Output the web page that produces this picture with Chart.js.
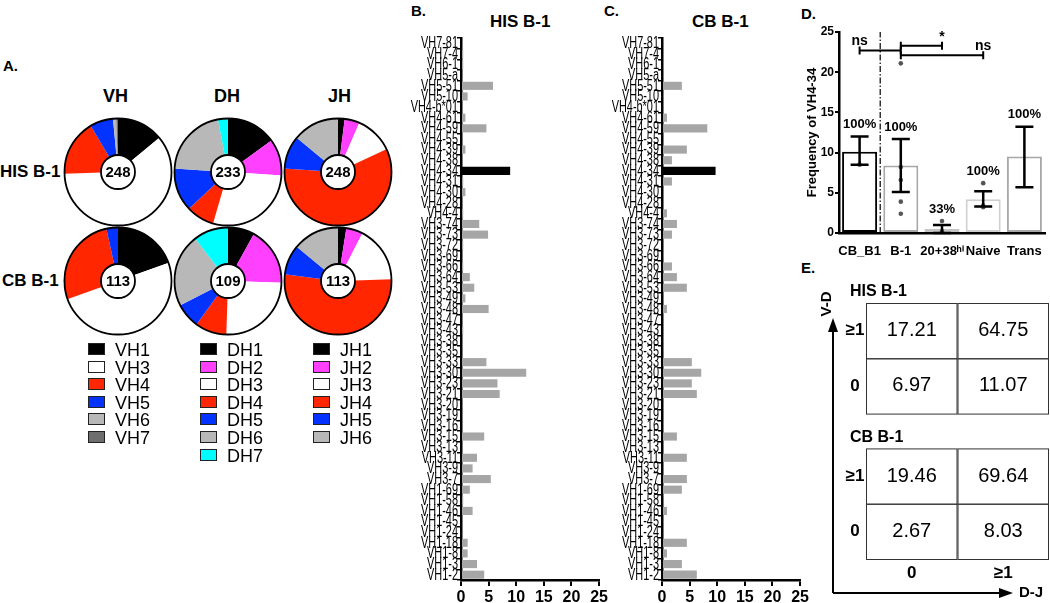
<!DOCTYPE html>
<html>
<head>
<meta charset="utf-8">
<title>VH usage in B-1 cells</title>
<script src="https://cdn.jsdelivr.net/npm/chart.js@4.4.0/dist/chart.umd.min.js"></script>
<style>
  body { margin: 0; background: #fff; }
  #fig { position: relative; width: 1050px; height: 603px; overflow: hidden;
         font-family: 'Liberation Sans', Arial, sans-serif; color: #000; }
  #fig canvas { position: absolute; }
  .txt { position: absolute; white-space: nowrap; }
  .b { font-weight: bold; }
  .lg { position: absolute; height: 16px; font-size: 18px; line-height: 16px; padding-left: 27px; }
  .sw { position: absolute; left: 0; top: 1px; width: 15px; height: 10px; border: 1.5px solid #222; }
</style>
</head>
<body>
<div id="fig">
  <!-- panel letters and titles -->
  <div class="txt b" style="left:3px;top:57px;font-size:15px">A.</div>
  <div class="txt b" style="left:411px;top:2px;font-size:15px">B.</div>
  <div class="txt b" style="left:604px;top:2px;font-size:15px">C.</div>
  <div class="txt b" style="left:801px;top:5px;font-size:15px">D.</div>
  <div class="txt b" style="left:801px;top:259px;font-size:15px">E.</div>
  <div class="txt b" style="left:490px;top:12px;font-size:17px">HIS B-1</div>
  <div class="txt b" style="left:692px;top:12px;font-size:17px">CB B-1</div>

  <div class="txt b" style="left:103px;top:86px;font-size:18px">VH</div>
  <div class="txt b" style="left:214px;top:86px;font-size:18px">DH</div>
  <div class="txt b" style="left:328px;top:86px;font-size:18px">JH</div>
  <div class="txt b" style="left:0px;top:162px;font-size:17px">HIS B-1</div>
  <div class="txt b" style="left:2px;top:271px;font-size:17px">CB B-1</div>

  <canvas id="pieHisVH" width="112" height="112" style="left:62px;top:116px"></canvas>
  <canvas id="pieHisDH" width="112" height="112" style="left:172px;top:116px"></canvas>
  <canvas id="pieHisJH" width="112" height="112" style="left:282px;top:116px"></canvas>
  <canvas id="pieCbVH" width="112" height="112" style="left:62px;top:225px"></canvas>
  <canvas id="pieCbDH" width="112" height="112" style="left:172px;top:225px"></canvas>
  <canvas id="pieCbJH" width="112" height="112" style="left:282px;top:225px"></canvas>

  <div id="legendVH" class="txt" style="left:88px;top:342px"></div>
  <div id="legendDH" class="txt" style="left:200px;top:342px"></div>
  <div id="legendJH" class="txt" style="left:313px;top:342px"></div>

  <canvas id="chartB" width="215" height="603" style="left:395px;top:0px"></canvas>
  <canvas id="chartC" width="215" height="603" style="left:596px;top:0px"></canvas>
  <canvas id="chartD" width="245" height="240" style="left:805px;top:20px"></canvas>
  <canvas id="chartE" width="250" height="348" style="left:800px;top:255px"></canvas>
</div>

<script>
// ---- A. gene family usage (% of sequences), clockwise from 12 o'clock ----
const vhSegments = ['VH1', 'VH3', 'VH4', 'VH5', 'VH6', 'VH7'];
const dhSegments = ['DH1', 'DH2', 'DH3', 'DH4', 'DH5', 'DH6', 'DH7'];
const jhSegments = ['JH1', 'JH2', 'JH3', 'JH4', 'JH5', 'JH6'];

const hisVH = [14, 60.5, 17, 7, 1, 0.5];
const hisDH = [15, 11, 28.5, 8.5, 13, 21, 3];
const hisJH = [2, 4.5, 11.5, 58, 10, 14];
const cbVH = [19.5, 50, 27, 3.5, 0, 0];
const cbDH = [8, 17.5, 25, 9.5, 7.5, 22, 10.5];
const cbJH = [2.5, 5, 17, 52.5, 9, 14];

const hisCounts = [248, 233, 248];
const cbCounts = [113, 109, 113];

// ---- B./C. VH gene frequency (%) ----
const geneLabels = ['VH7-81', 'VH7-4', 'VH6-1', 'VH5-a', 'VH5-51', 'VH5-10', 'VH4-b*01', 'VH4-61',
  'VH4-59', 'VH4-55', 'VH4-39', 'VH4-38', 'VH4-34', 'VH4-31', 'VH4-30', 'VH4-28', 'VH4-4',
  'VH3-74', 'VH3-73', 'VH3-72', 'VH3-69', 'VH3-66', 'VH3-64', 'VH3-53', 'VH3-49', 'VH3-48',
  'VH3-47', 'VH3-43', 'VH3-38', 'VH3-35', 'VH3-33', 'VH3-30', 'VH3-23', 'VH3-21', 'VH3-20',
  'VH3-19', 'VH3-16', 'VH3-15', 'VH3-13', 'VH3-11', 'VH3-9', 'VH3-7', 'VH1-69', 'VH1-58',
  'VH1-46', 'VH1-45', 'VH1-24', 'VH1-18', 'VH1-8', 'VH1-3', 'VH1-2'];
const hisB1Freq = [0, 0.4, 0.4, 0, 5.8, 1.2, 0, 0.8, 4.6, 0, 0.8, 0, 8.9, 0.4, 0.8, 0, 0.4,
  3.3, 4.9, 0.4, 0, 0.4, 1.6, 2.4, 0.8, 5.0, 0, 0.4, 0, 0, 4.6, 11.8, 6.6, 7.0, 0,
  0, 0, 4.2, 0, 2.9, 2.1, 5.4, 1.6, 0.4, 2.1, 0, 0, 1.2, 1.2, 2.9, 4.2];
const cbB1Freq = [0, 0, 0, 0, 3.6, 0, 0, 0.9, 8.2, 0, 4.5, 1.8, 9.7, 1.8, 0, 0, 0.9,
  2.7, 1.8, 0, 0, 1.8, 2.7, 4.5, 0, 0.9, 0, 0, 0, 0, 5.4, 7.1, 5.4, 6.3, 0,
  0, 0, 2.7, 0, 4.5, 0, 4.5, 3.6, 0, 0.9, 0, 0, 4.5, 0.9, 3.6, 6.3];
const highlightGene = 'VH4-34';
const freqTicks = [0, 5, 10, 15, 20, 25];

// ---- D. frequency of VH4-34 ----
const dCategories = ['CB_B1', 'B-1', '20+38ʰⁱ', 'Naive', 'Trans'];
const dMeans = [10.1, 8.4, 0.5, 4.2, 9.5];
const dErrLow = [8.5, 5.1, 0, 3.3, 5.7];
const dErrHigh = [12.0, 11.7, 1.0, 5.2, 13.2];
const dPercents = ['100%', '100%', '33%', '100%', '100%'];
const dDotCat = [0, 1, 1, 1, 1, 1, 2, 2, 3, 3, 3];
const dDotVal = [8.5, 21.1, 8.2, 6.6, 3.9, 2.4, 1.5, 0.2, 6.2, 3.4, 3.2];
const dTicks = [0, 5, 10, 15, 20, 25];
const bracketFrom = [0, 1, 1];
const bracketTo = [1, 2, 3];
const bracketY = [22.7, 23.3, 22.1];
const bracketText = ['ns', '*', 'ns'];
const bracketTextAt = [0, 2, 3];

// ---- E. N-additions V-D vs D-J (% of sequences) ----
const vdLabels = ['≥1', '0'];
const djLabels = ['0', '≥1'];
const hisVdDj = [[17.21, 64.75], [6.97, 11.07]];
const cbVdDj = [[19.46, 69.64], [2.67, 8.03]];

// ---- styles ----
const SANS = "'Liberation Sans', Arial, sans-serif";
const vhColors = ['#000000', '#ffffff', '#ff2600', '#0433ff', '#b8b8b8', '#6e6e6e'];
const dhColors = ['#000000', '#ff40ff', '#ffffff', '#ff2600', '#0433ff', '#b8b8b8', '#00fdff'];
const jhColors = ['#000000', '#ff40ff', '#ffffff', '#ff2600', '#0433ff', '#b8b8b8'];

Chart.defaults.font.family = SANS;
Chart.defaults.color = '#000';

// outline + centre badge for the pies
const pieDecor = {
  id: 'pieDecor',
  afterDatasetsDraw(chart, args, opts) {
    const arc = chart.getDatasetMeta(0).data[0];
    if (!arc) return;
    const { ctx } = chart;
    const { x, y, outerRadius } = arc.getProps(['x', 'y', 'outerRadius'], true);
    ctx.save();
    ctx.lineWidth = 1.8;
    ctx.strokeStyle = '#000';
    ctx.beginPath();
    ctx.arc(x, y, outerRadius - 0.5, 0, Math.PI * 2);
    ctx.stroke();
    ctx.beginPath();
    ctx.arc(x, y, 17, 0, Math.PI * 2);
    ctx.fillStyle = '#fff';
    ctx.fill();
    ctx.stroke();
    ctx.fillStyle = '#000';
    ctx.font = 'bold 15px ' + SANS;
    ctx.textAlign = 'center';
    ctx.textBaseline = 'middle';
    ctx.fillText(String(opts.count), x, y + 1);
    ctx.restore();
  }
};

function makePie(id, labels, values, colors, count) {
  new Chart(document.getElementById(id), {
    type: 'doughnut',
    data: { labels: labels, datasets: [{ data: values, backgroundColor: colors, borderWidth: 0 }] },
    options: {
      responsive: false,
      animation: false,
      devicePixelRatio: 1,
      cutout: '31%',
      layout: { padding: 2 },
      plugins: { legend: { display: false }, tooltip: { enabled: false }, pieDecor: { count: count } }
    },
    plugins: [pieDecor]
  });
}

makePie('pieHisVH', vhSegments, hisVH, vhColors, hisCounts[0]);
makePie('pieHisDH', dhSegments, hisDH, dhColors, hisCounts[1]);
makePie('pieHisJH', jhSegments, hisJH, jhColors, hisCounts[2]);
makePie('pieCbVH', vhSegments, cbVH, vhColors, cbCounts[0]);
makePie('pieCbDH', dhSegments, cbDH, dhColors, cbCounts[1]);
makePie('pieCbJH', jhSegments, cbJH, jhColors, cbCounts[2]);

function makeLegend(id, labels, colors) {
  const box = document.getElementById(id);
  labels.forEach((name, i) => {
    const row = document.createElement('div');
    row.className = 'lg';
    row.style.top = (i * 17.6) + 'px';
    row.innerHTML = '<span class="sw" style="background:' + colors[i] + '"></span>' + name;
    box.appendChild(row);
  });
}
makeLegend('legendVH', vhSegments, vhColors);
makeLegend('legendDH', dhSegments, dhColors);
makeLegend('legendJH', jhSegments, jhColors);

// the gene names are set in a squeezed face, so they are drawn here at the axis positions
const geneTickLabels = {
  id: 'geneTickLabels',
  afterDraw(chart) {
    const { ctx, scales: { y } } = chart;
    ctx.save();
    ctx.font = '14px ' + SANS;
    ctx.fillStyle = '#000';
    ctx.textAlign = 'right';
    ctx.textBaseline = 'middle';
    const right = y.right - 3;
    geneLabels.forEach((g, i) => {
      ctx.save();
      ctx.translate(right, y.getPixelForValue(i));
      ctx.scale(0.78, 1.12);
      ctx.fillText(g, 0, 0.5);
      ctx.restore();
    });
    ctx.restore();
  }
};

// horizontal bar charts of VH gene use
function makeGeneChart(id, values) {
  new Chart(document.getElementById(id), {
    type: 'bar',
    data: {
      labels: geneLabels,
      datasets: [{
        data: values,
        backgroundColor: geneLabels.map(g => g === highlightGene ? '#000' : '#a6a6a6'),
        barPercentage: 0.9,
        categoryPercentage: 0.85
      }]
    },
    options: {
      indexAxis: 'y',
      responsive: false,
      animation: false,
      devicePixelRatio: 1,
      layout: { padding: { top: 38, right: 7, left: 0, bottom: 0 } },
      plugins: { legend: { display: false }, tooltip: { enabled: false } },
      scales: {
        y: {
          afterFit: s => { s.width = 66; },
          ticks: { display: false, autoSkip: false },
          grid: { drawOnChartArea: false, tickLength: 4, color: '#000', lineWidth: 1.5 },
          border: { color: '#000', width: 2.5 }
        },
        x: {
          min: 0,
          max: 25,
          afterBuildTicks: s => { s.ticks = freqTicks.map(v => ({ value: v })); },
          afterFit: s => { s.height = 23; },
          ticks: { padding: 2, color: '#000', font: { size: 16, weight: 'bold' } },
          grid: { drawOnChartArea: false, tickLength: 6, color: '#000', lineWidth: 2 },
          border: { color: '#000', width: 2.5 }
        }
      }
    },
    plugins: [geneTickLabels]
  });
}
makeGeneChart('chartB', hisB1Freq);
makeGeneChart('chartC', cbB1Freq);

// D: error bars, separator, significance brackets and percent labels
const dExtras = {
  id: 'dExtras',
  afterDatasetsDraw(chart) {
    const { ctx, chartArea: a, scales: { x, y } } = chart;
    ctx.save();
    ctx.strokeStyle = '#000';
    ctx.fillStyle = '#000';

    // dash-dot separator between CB and HIS groups
    const sx = x.getPixelForValue(0.5);
    ctx.lineWidth = 1.2;
    ctx.setLineDash([6, 2, 1.5, 2]);
    ctx.beginPath();
    ctx.moveTo(sx, a.bottom);
    ctx.lineTo(sx, y.getPixelForValue(25));
    ctx.stroke();
    ctx.setLineDash([]);

    // mean +/- error
    ctx.lineWidth = 2.5;
    dMeans.forEach((m, i) => {
      const cx = x.getPixelForValue(i);
      const yt = y.getPixelForValue(dErrHigh[i]);
      const yb = y.getPixelForValue(dErrLow[i]);
      ctx.beginPath();
      ctx.moveTo(cx, yt); ctx.lineTo(cx, yb);
      ctx.moveTo(cx - 9, yt); ctx.lineTo(cx + 9, yt);
      ctx.moveTo(cx - 9, yb); ctx.lineTo(cx + 9, yb);
      ctx.stroke();
    });

    // percentage labels
    ctx.font = 'bold 13px ' + SANS;
    ctx.textAlign = 'center';
    ctx.textBaseline = 'middle';
    dPercents.forEach((p, i) => {
      let top = dErrHigh[i];
      dDotCat.forEach((c, k) => { if (c === i && dDotVal[k] < 15) top = Math.max(top, dDotVal[k]); });
      ctx.fillText(p, x.getPixelForValue(i), y.getPixelForValue(top) - 12);
    });

    // significance brackets
    ctx.lineWidth = 2;
    bracketY.forEach((v, i) => {
      const x0 = x.getPixelForValue(bracketFrom[i]);
      const x1 = x.getPixelForValue(bracketTo[i]);
      const yy = y.getPixelForValue(v);
      ctx.beginPath();
      ctx.moveTo(x0, yy); ctx.lineTo(x1, yy);
      ctx.moveTo(x0, yy - 4); ctx.lineTo(x0, yy + 4);
      ctx.moveTo(x1, yy - 4); ctx.lineTo(x1, yy + 4);
      ctx.stroke();
      ctx.font = 'bold 14px ' + SANS;
      ctx.fillText(bracketText[i], x.getPixelForValue(bracketTextAt[i]), yy - 9);
    });
    ctx.restore();
  }
};

new Chart(document.getElementById('chartD'), {
  type: 'bar',
  data: {
    labels: dCategories,
    datasets: [
      {
        type: 'bar',
        data: dMeans,
        backgroundColor: '#fff',
        borderColor: ['#000', '#a8a8a8', '#c4c4c4', '#cfcfcf', '#a8a8a8'],
        borderWidth: 2,
        borderSkipped: false,
        barPercentage: 0.85,
        categoryPercentage: 1,
        order: 2
      },
      {
        type: 'line',
        data: dDotCat.map((c, k) => ({ x: dCategories[c], y: dDotVal[k] })),
        showLine: false,
        pointRadius: 2.3,
        pointBackgroundColor: '#555',
        pointBorderWidth: 0,
        order: 1
      }
    ]
  },
  options: {
    responsive: false,
    animation: false,
    devicePixelRatio: 1,
    layout: { padding: { top: 12, right: 5, left: 0, bottom: 0 } },
    plugins: { legend: { display: false }, tooltip: { enabled: false } },
    scales: {
      y: {
        min: 0,
        max: 25,
        afterBuildTicks: s => { s.ticks = dTicks.map(v => ({ value: v })); },
        afterFit: s => { s.width = 34; },
        title: { display: true, text: 'Frequency of VH4-34', padding: 0, font: { size: 13, weight: 'bold' } },
        ticks: { padding: 1, font: { size: 12, weight: 'bold' } },
        grid: { drawOnChartArea: false, tickLength: 4, color: '#000', lineWidth: 2 },
        border: { color: '#000', width: 2.5 }
      },
      x: {
        afterFit: s => { s.height = 27; },
        ticks: { autoSkip: false, maxRotation: 0, padding: 3, font: { size: 13, weight: 'bold' } },
        grid: { display: false },
        border: { color: '#000', width: 2.5 }
      }
    }
  },
  plugins: [dExtras]
});

// E: two 2x2 tables on a shared V-D / D-J frame
const tableGap = 0.63;
const eTables = {
  id: 'eTables',
  afterDraw(chart) {
    const { ctx, chartArea: a, scales: { x, y } } = chart;
    ctx.save();
    ctx.fillStyle = '#000';
    [['HIS B-1', hisVdDj, 0], ['CB B-1', cbVdDj, 2 + tableGap]].forEach(([name, vals, row0]) => {
      const top = y.getPixelForValue(row0);
      ctx.font = 'bold 16px ' + SANS;
      ctx.textAlign = 'left';
      ctx.textBaseline = 'middle';
      ctx.fillText(name, a.left - 16, top - 11);
      for (let r = 0; r < 2; r++) {
        const y0 = y.getPixelForValue(row0 + r);
        const y1 = y.getPixelForValue(row0 + r + 1);
        for (let c = 0; c < 2; c++) {
          const x0 = x.getPixelForValue(c);
          const x1 = x.getPixelForValue(c + 1);
          ctx.lineWidth = 1;
          ctx.strokeStyle = '#333';
          ctx.strokeRect(x0 + 0.5, y0 + 0.5, x1 - x0 - 1, y1 - y0);
          ctx.font = '20px ' + SANS;
          ctx.textAlign = 'center';
          ctx.fillText(vals[r][c].toFixed(2), (x0 + x1) / 2, (y0 + y1) / 2);
        }
        ctx.font = 'bold 17px ' + SANS;
        ctx.fillText(vdLabels[r], a.left - 11, (y0 + y1) / 2);
      }
    });
    ctx.font = 'bold 17px ' + SANS;
    ctx.textAlign = 'center';
    djLabels.forEach((lab, c) => {
      ctx.fillText(lab, (x.getPixelForValue(c) + x.getPixelForValue(c + 1)) / 2, a.bottom + 14);
    });

    // axes with arrow heads
    const ox = a.left - 33;
    const oy = a.bottom + 34;
    const tipY = a.top + 15;
    const tipX = a.right - 36;
    ctx.strokeStyle = '#000';
    ctx.lineWidth = 2;
    ctx.beginPath();
    ctx.moveTo(ox, oy); ctx.lineTo(ox, tipY + 10);
    ctx.moveTo(ox, oy); ctx.lineTo(tipX - 10, oy);
    ctx.stroke();
    ctx.beginPath();
    ctx.moveTo(ox, tipY); ctx.lineTo(ox - 5, tipY + 14); ctx.lineTo(ox + 5, tipY + 14); ctx.closePath();
    ctx.moveTo(tipX, oy); ctx.lineTo(tipX - 14, oy - 5); ctx.lineTo(tipX - 14, oy + 5); ctx.closePath();
    ctx.fill();

    ctx.font = 'bold 15px ' + SANS;
    ctx.textAlign = 'left';
    ctx.fillText('D-J', tipX + 6, oy);
    ctx.translate(ox - 6, a.top + 1);
    ctx.rotate(-Math.PI / 2);
    ctx.textAlign = 'center';
    ctx.fillText('V-D', 0, 0);
    ctx.restore();
  }
};

new Chart(document.getElementById('chartE'), {
  type: 'scatter',
  data: { datasets: [{ data: [] }] },
  options: {
    responsive: false,
    animation: false,
    devicePixelRatio: 1,
    layout: { padding: { top: 48, right: 1, left: 66, bottom: 44 } },
    plugins: { legend: { display: false }, tooltip: { enabled: false } },
    scales: {
      x: { display: false, min: 0, max: 2 },
      y: { display: false, min: 0, max: 4 + tableGap, reverse: true }
    }
  },
  plugins: [eTables]
});
</script>
</body>
</html>
